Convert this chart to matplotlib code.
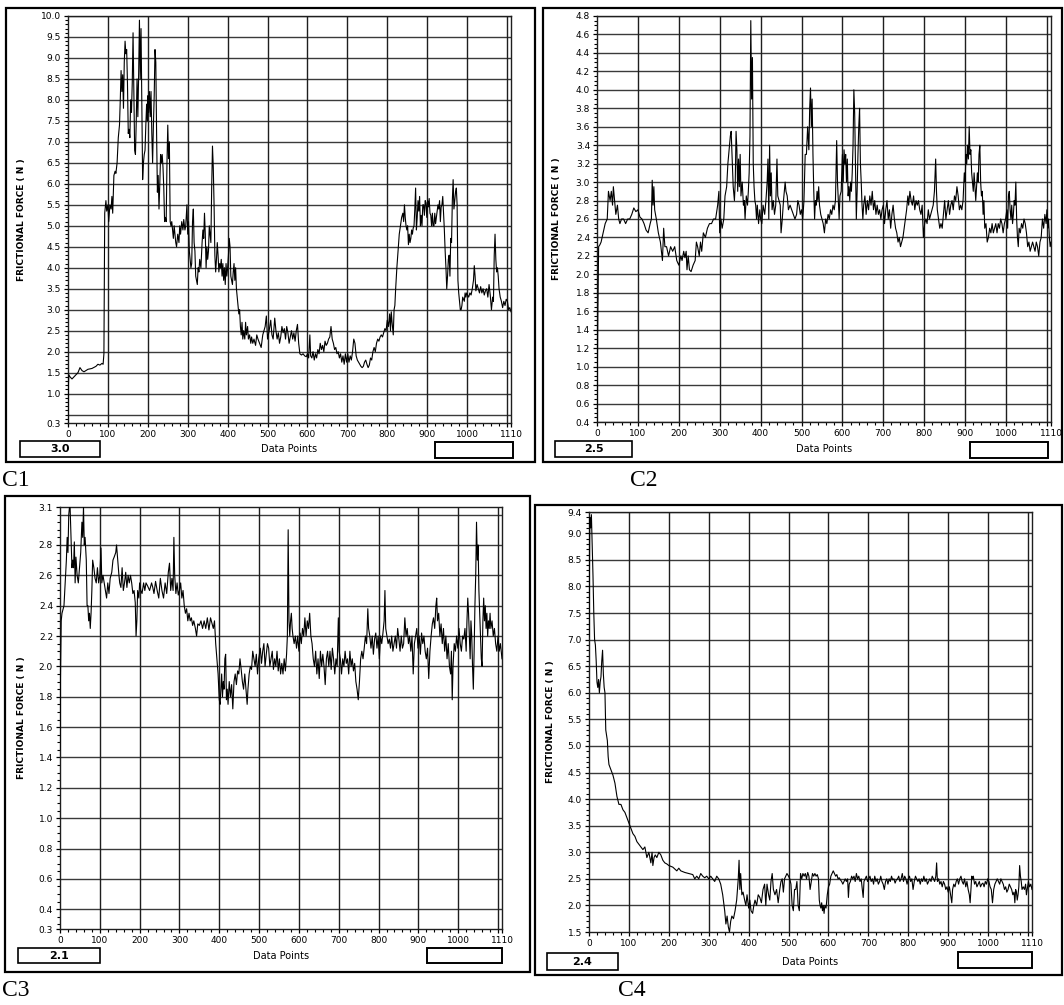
import matplotlib
matplotlib.use("Agg")
import matplotlib.pyplot as plt
from matplotlib.patches import Rectangle

W, H = 1064, 1005

# ---- C1 ----
c1_x = [0, 1, 2, 5, 10, 15, 20, 25, 30, 35,
        40, 50, 60, 70, 75, 80, 85, 88, 90, 92,
        95, 97, 100, 102, 105, 108, 110, 112, 115, 118,
        120, 123, 126, 129, 131, 133, 135, 137, 139, 141,
        143, 145, 147, 149, 151, 153, 155, 157, 159, 161,
        163, 165, 167, 169, 171, 173, 175, 177, 179, 181,
        183, 185, 187, 189, 191, 193, 195, 197, 199, 200,
        202, 204, 206, 208, 210, 212, 214, 216, 218, 220,
        222, 224, 226, 228, 230, 232, 234, 236, 238, 240,
        242, 244, 246, 248, 250, 252, 254, 256, 258, 260,
        262, 264, 266, 268, 270, 272, 275, 278, 280, 282,
        285, 288, 290, 293, 295, 298, 300, 302, 304, 306,
        308, 310, 312, 314, 316, 318, 320, 322, 324, 326,
        328, 330, 333, 336, 338, 340, 342, 344, 346, 348,
        350, 352, 354, 356, 358, 360, 362, 364, 366, 368,
        370, 372, 374, 376, 378, 380, 382, 384, 386, 388,
        390, 392, 394, 396, 398, 400, 402, 404, 406, 408,
        410, 412, 414, 416, 418, 420, 422, 425, 428, 430,
        432, 434, 436, 438, 440, 443, 445, 447, 450, 452,
        455, 458, 460, 463, 466, 470, 473, 476, 480, 484,
        488, 491, 494, 497, 500, 504, 508, 511, 514, 518,
        521, 524, 527, 530, 533, 536, 539, 542, 545, 548,
        551, 554, 557, 560, 563, 566, 569, 572, 575, 578,
        581, 585, 589, 593, 597, 600, 603, 606, 608, 611,
        614, 617, 620, 623, 626, 629, 632, 635, 638, 641,
        644, 647, 650, 653, 656, 659, 662, 665, 668, 671,
        674, 677, 680, 683, 686, 689, 692, 695, 698, 701,
        704, 707, 710, 713, 716, 719, 722, 725, 728, 731,
        734, 737, 740, 743, 746, 749, 752, 755, 758, 761,
        764, 767, 770, 773, 776, 779, 782, 785, 788, 791,
        794, 797, 800, 803, 806, 808, 810, 812, 815, 817,
        819, 821, 824, 827, 830, 833, 836, 839, 841, 843,
        845, 847, 849, 851, 853, 855, 857, 859, 861, 863,
        865, 867, 869, 871, 873, 875, 877, 879, 881, 883,
        885, 887, 889, 891, 893, 895, 897, 899, 901, 903,
        905, 907, 909, 911, 913, 915, 917, 919, 921, 923,
        925, 927, 929, 931, 933, 935, 937, 939, 941, 943,
        945, 947, 949, 951, 953, 955, 957, 959, 961, 963,
        965, 967, 969, 971, 973, 975, 977, 979, 981, 983,
        985, 987, 989, 991, 993, 995, 997, 999, 1001, 1004,
        1007, 1010, 1013, 1016, 1018, 1020, 1022, 1025, 1028, 1031,
        1034, 1037, 1040, 1043, 1046, 1049, 1052, 1055, 1058, 1061,
        1064, 1066, 1068, 1070, 1072, 1074, 1076, 1078, 1080, 1083,
        1086, 1089, 1092, 1095, 1098, 1101, 1104, 1107, 1110]
c1_y = [0.3, 1.2, 1.45, 1.4, 1.35, 1.4, 1.45, 1.5, 1.62, 1.55,
        1.52, 1.58, 1.6, 1.65, 1.7, 1.68, 1.72, 1.7, 1.95, 5.3,
        5.6, 5.35, 5.5, 5.1, 5.5, 5.4, 5.7, 5.3, 6.2, 6.3,
        6.25, 6.5, 7.1, 7.4, 8.0, 8.7, 8.2, 8.6, 7.8, 8.9,
        9.4, 9.1, 9.2, 8.4, 7.2, 7.3, 7.1, 8.0, 7.7, 8.4,
        9.6, 8.2, 6.8, 6.7, 7.5, 8.5, 7.6, 8.6, 9.9, 8.5,
        9.7, 7.9, 6.1, 6.5, 6.7, 6.8, 7.4, 7.9, 7.5, 8.1,
        7.7, 8.2, 7.6, 8.2, 7.2, 6.5, 7.4, 8.1, 9.2, 8.9,
        7.2, 5.8, 6.2, 5.4, 6.0, 6.7, 6.5, 6.7, 6.4, 5.9,
        5.1, 5.2, 5.1, 6.5, 7.4, 6.6, 7.0, 5.1, 5.0, 5.1,
        4.9, 4.7, 5.0, 4.8, 4.6, 4.5, 4.8, 4.6, 5.0, 4.8,
        5.1, 4.9, 5.15, 4.9, 5.0, 5.5, 4.8, 5.1, 4.4, 4.2,
        4.0, 4.1, 5.1, 5.4, 4.6, 4.4, 3.8, 3.7, 3.6, 4.0,
        3.9, 4.2, 4.0, 4.6, 4.9, 4.7, 5.3, 4.8, 4.0, 4.5,
        4.2, 4.4, 5.0, 4.8, 4.6, 5.9, 6.9, 6.4, 5.5, 4.3,
        3.9, 4.2, 4.6, 4.3, 3.9, 4.1, 4.0, 4.2, 3.8, 4.1,
        3.7, 4.0, 3.6, 4.1, 3.8, 4.0, 4.3, 4.7, 4.5, 3.8,
        3.7, 3.6, 3.9, 4.1, 3.7, 4.0, 3.5, 3.2, 2.9, 3.0,
        2.6, 2.4, 2.7, 2.3, 2.5, 2.3, 2.7, 2.4, 2.6, 2.3,
        2.4, 2.2, 2.35, 2.2, 2.3, 2.15, 2.4, 2.3, 2.2, 2.1,
        2.4, 2.5, 2.6, 2.85, 2.3, 2.5, 2.75, 2.4, 2.3, 2.8,
        2.5, 2.3, 2.45, 2.2, 2.35, 2.6, 2.45, 2.55, 2.3, 2.6,
        2.45, 2.2, 2.35, 2.5, 2.3, 2.45, 2.25, 2.5, 2.65, 2.2,
        1.95, 1.92, 1.95, 1.9, 1.88, 1.95, 1.85, 2.4, 1.9, 1.85,
        2.0, 1.8, 1.95, 1.85, 2.05, 1.95, 2.2, 2.05, 2.15, 2.0,
        2.25, 2.15, 2.2, 2.3, 2.35, 2.6, 2.3, 2.2, 2.05, 2.1,
        1.95, 2.0, 1.85, 1.95, 1.75, 1.9, 1.7, 1.95, 1.75, 1.95,
        1.75, 1.9, 1.8, 2.0, 2.3, 2.2, 1.9, 1.8, 1.75, 1.7,
        1.65, 1.62, 1.65, 1.75, 1.8, 1.7, 1.62, 1.68, 1.85, 1.8,
        2.0, 2.1, 2.0, 2.2, 2.3, 2.25, 2.35, 2.4, 2.35, 2.45,
        2.55, 2.5, 2.75, 2.6, 2.9, 2.5, 2.95, 2.7, 2.4, 3.0,
        3.1, 3.5, 4.0, 4.4, 4.8, 5.0, 5.2, 5.3, 5.1, 5.5,
        5.2, 5.0, 4.9, 5.0, 4.55, 4.8, 4.6, 4.7, 4.9, 4.8,
        4.95, 5.0, 5.4, 5.9, 4.9, 5.2, 5.6, 5.35, 5.7, 5.0,
        5.25, 5.0, 5.5, 5.5, 5.25, 5.6, 5.55, 5.2, 5.6, 5.45,
        5.65, 5.3, 5.25, 5.0, 5.3, 5.0, 5.0, 5.3, 5.05, 5.2,
        5.35, 5.5, 5.4, 5.6, 5.1, 5.45, 5.5, 5.7, 5.3, 4.9,
        4.4, 4.0, 3.5, 3.8, 4.2, 4.3, 3.8, 4.7, 4.6, 5.6,
        6.1, 5.4, 5.6, 5.8, 5.9, 5.5, 3.7, 3.4, 3.2, 3.0,
        3.0, 3.1, 3.3, 3.25, 3.2, 3.4, 3.3, 3.4, 3.35, 3.3,
        3.4, 3.35, 3.5, 3.7, 4.05, 3.8, 3.45, 3.6, 3.5, 3.4,
        3.55, 3.4, 3.5, 3.35, 3.45, 3.5, 3.3, 3.6, 3.35, 3.0,
        3.3, 3.2, 4.3, 4.8, 4.2, 3.9, 4.0, 3.8, 3.5, 3.3,
        3.2, 3.05, 3.2, 3.1, 3.25, 3.2, 3.0, 3.05, 2.95]

# ---- C2 ----
c2_x = [0, 1, 2, 4, 7, 10, 15, 20, 25, 28,
        32, 35, 38, 40, 43, 46, 50, 53, 56, 60,
        65, 70, 75, 80, 85, 90, 95, 100, 105, 110,
        115, 120, 125, 130, 133, 135, 137, 139, 141, 145,
        150, 155, 160, 163, 166, 170, 175, 180, 185, 190,
        195, 200, 205, 208, 212, 215, 218, 220, 223, 226,
        230, 235, 240, 243, 246, 250, 253, 256, 260, 265,
        270, 275, 280, 285, 290, 295, 298, 300, 303, 306,
        310, 313, 317, 320, 323, 326, 328, 330, 333, 336,
        338, 340, 342, 344, 346, 348, 350, 352, 355, 358,
        360, 362, 365, 368, 370, 372, 374, 376, 378, 380,
        382, 384, 386, 388, 390, 392, 395, 398, 400, 403,
        406, 410, 413, 416, 418, 420, 422, 424, 426, 428,
        431, 434, 437, 440, 442, 445, 448, 450, 453, 456,
        460, 462, 465, 468, 472, 476, 480, 484, 488, 491,
        494, 497, 500, 503, 506, 509, 512, 515, 518, 520,
        522, 524, 526, 528, 530, 532, 534, 536, 538, 540,
        542, 544, 547, 550, 553, 556, 559, 562, 565, 568,
        571, 574, 577, 580, 583, 586, 588, 590, 592, 594,
        597, 600, 602, 604, 606, 608, 610, 612, 614, 616,
        618, 620, 622, 624, 626, 628, 630, 632, 634, 636,
        638, 640, 642, 644, 646, 648, 650, 652, 655, 658,
        661, 664, 667, 670, 673, 676, 679, 682, 685, 688,
        691, 694, 697, 700, 703, 706, 709, 712, 715, 718,
        721, 724, 727, 730, 733, 736, 739, 742, 745, 748,
        751, 754, 757, 760, 762, 765, 768, 771, 774, 777,
        780, 783, 786, 789, 792, 795, 798, 801, 804, 807,
        810, 813, 816, 819, 822, 825, 828, 830, 832, 835,
        838, 841, 844, 847, 850, 853, 856, 859, 862, 865,
        868, 871, 874, 877, 880, 883, 886, 889, 892, 895,
        898, 900, 902, 904, 906, 908, 910, 912, 914, 916,
        918, 920, 922, 924, 926, 928, 930, 932, 934, 936,
        938, 940, 942, 944, 946, 948, 951, 954, 957, 960,
        963, 966, 969, 972, 975, 978, 981, 984, 987, 990,
        993, 996, 999, 1002, 1004, 1006, 1008, 1010, 1012, 1014,
        1016, 1018, 1020, 1022, 1024, 1026, 1028, 1030, 1032, 1035,
        1038, 1041, 1044, 1047, 1050, 1053, 1056, 1059, 1062, 1065,
        1068, 1071, 1074, 1077, 1080, 1083, 1086, 1089, 1092, 1095,
        1098, 1100, 1102, 1104, 1106, 1108, 1110]
c2_y = [0.4, 1.0, 1.6, 2.3, 2.32, 2.35, 2.45, 2.55, 2.6, 2.9,
        2.8, 2.9, 2.75, 2.95, 2.8, 2.65, 2.75, 2.6, 2.55, 2.6,
        2.6, 2.55, 2.6, 2.6, 2.65, 2.72, 2.68, 2.7, 2.62, 2.6,
        2.55, 2.48, 2.45, 2.55, 2.6, 3.02, 2.75, 2.95, 2.7, 2.6,
        2.45, 2.35, 2.15, 2.5, 2.3, 2.3, 2.2, 2.3, 2.25, 2.3,
        2.15, 2.1, 2.2, 2.15, 2.25, 2.18, 2.25, 2.05, 2.2, 2.05,
        2.03, 2.1, 2.15, 2.35, 2.3, 2.2, 2.35, 2.25, 2.45, 2.4,
        2.5, 2.55, 2.55, 2.6, 2.6, 2.75, 2.9, 2.45, 2.6, 2.5,
        2.6, 2.85, 2.95, 3.2, 3.35, 3.5, 3.55, 3.3, 2.95, 2.8,
        3.0, 3.55, 3.35, 2.9, 3.25, 2.95, 3.3, 2.85, 3.0, 2.75,
        2.8, 2.6, 2.85, 2.75, 2.9, 3.1, 3.5, 4.75, 3.9, 4.35,
        3.2, 2.95, 2.8, 2.75, 2.6, 2.75, 2.55, 2.7, 2.6, 2.55,
        2.75, 2.65, 2.8, 3.0, 3.25, 2.6, 3.4, 2.85, 3.1, 2.7,
        2.8, 2.65, 2.75, 3.25, 2.85, 2.8, 2.75, 2.45, 2.6, 2.8,
        3.0, 2.9, 2.85, 2.7, 2.75, 2.7, 2.65, 2.6, 2.65, 2.8,
        2.75, 2.65, 2.7, 2.6, 2.8, 3.3, 3.3, 3.6, 3.35, 3.8,
        4.02, 3.6, 3.9, 3.3, 2.9, 2.6, 2.8, 2.75, 2.9, 2.8,
        2.95, 2.75, 2.65, 2.6, 2.55, 2.45, 2.6, 2.55, 2.65, 2.6,
        2.7, 2.65, 2.75, 2.7, 2.8, 3.45, 3.0, 2.8, 2.6, 2.85,
        2.9, 3.3, 3.0, 3.35, 3.2, 3.3, 3.0, 3.25, 2.85, 2.95,
        2.8, 3.0, 2.9, 3.1, 3.4, 4.0, 3.75, 3.2, 2.6, 2.9,
        3.3, 3.6, 3.8, 3.2, 3.0, 2.75, 2.6, 2.75, 2.85, 2.65,
        2.8, 2.7, 2.85, 2.75, 2.9, 2.7, 2.8, 2.65, 2.75, 2.65,
        2.7, 2.6, 2.7, 2.75, 2.55, 2.7, 2.8, 2.6, 2.7, 2.5,
        2.65, 2.75, 2.6, 2.5, 2.45, 2.35, 2.4, 2.3, 2.35, 2.4,
        2.5, 2.6, 2.7, 2.85, 2.75, 2.9, 2.8, 2.75, 2.85, 2.7,
        2.8, 2.75, 2.8, 2.7, 2.65, 2.75, 2.4, 2.55, 2.6, 2.55,
        2.7, 2.6, 2.65, 2.7, 2.75, 2.9, 3.25, 2.9, 2.7, 2.6,
        2.5, 2.55, 2.5, 2.65, 2.8, 2.6, 2.7, 2.8, 2.65, 2.75,
        2.8, 2.7, 2.85, 2.8, 2.95, 2.85, 2.7, 2.75, 2.7, 2.8,
        3.1, 3.0, 3.3, 3.2, 3.4, 3.25, 3.6, 3.3, 3.35, 3.1,
        3.0, 2.9, 3.1, 2.95, 2.8, 2.95, 3.1, 3.0, 3.3, 3.4,
        3.0, 2.85, 2.9, 2.65, 2.8, 2.5, 2.55, 2.35, 2.4, 2.5,
        2.45, 2.55, 2.45, 2.5, 2.55, 2.45, 2.55, 2.5, 2.6, 2.55,
        2.45, 2.55, 2.6, 2.7, 2.5, 2.85, 2.9, 2.7, 2.6, 2.75,
        2.55, 2.65, 2.8, 2.75, 3.0, 2.6, 2.4, 2.3, 2.5, 2.45,
        2.55, 2.5, 2.6, 2.55, 2.45, 2.3, 2.35, 2.25, 2.3, 2.35,
        2.3, 2.25, 2.35, 2.3, 2.2, 2.35, 2.4, 2.6, 2.5, 2.65,
        2.55, 2.7, 2.5, 2.6, 2.4, 2.3, 2.35]

# ---- C3 ----
c3_x = [0, 1, 3, 5, 8, 10, 13, 16, 18, 20,
        22, 25, 27, 30, 32, 34, 36, 38, 40, 43,
        46, 49, 52, 55, 57, 59, 61, 63, 66, 68,
        70, 72, 74, 76, 78, 80, 82, 85, 88, 91,
        94, 97, 100, 103, 105, 108, 111, 114, 117, 120,
        123, 126, 130, 133, 136, 140, 142, 145, 148, 150,
        153, 156, 159, 162, 165, 168, 171, 174, 177, 180,
        183, 186, 189, 191, 193, 195, 198, 200, 203, 206,
        210, 213, 216, 220, 225, 230, 233, 236, 240, 244,
        248, 252, 256, 260, 264, 268, 272, 275, 278, 281,
        284, 286, 288, 291, 294, 297, 300, 303, 306, 309,
        312, 315, 318, 321, 324, 327, 330, 333, 336, 340,
        343, 346, 350, 354, 358, 362, 366, 370, 374, 378,
        382, 385, 388, 391, 394, 397, 400, 402, 404, 406,
        408, 410, 412, 414, 416, 418, 420, 422, 425, 428,
        431, 434, 437, 440, 443, 446, 449, 452, 455, 458,
        461, 464, 467, 470, 472, 475, 478, 481, 484, 487,
        490, 493, 496, 499, 503, 506, 509, 512, 515, 518,
        521, 524, 527, 530, 533, 536, 539, 542, 545, 548,
        551, 554, 557, 560, 563, 566, 569, 571, 573, 575,
        577, 579, 581, 583, 585, 588, 591, 594, 597, 600,
        603, 606, 609, 612, 615, 618, 621, 624, 627, 630,
        633, 636, 639, 642, 645, 648, 651, 654, 657, 660,
        663, 666, 669, 672, 675, 678, 681, 684, 687, 690,
        693, 696, 699, 701, 704, 707, 710, 713, 716, 719,
        722, 725, 728, 731, 734, 737, 740, 743, 746, 749,
        752, 755, 758, 761, 764, 767, 770, 773, 775, 778,
        781, 784, 787, 790, 793, 796, 799, 802, 805, 808,
        811, 814, 816, 818, 821, 824, 827, 830, 833, 836,
        839, 842, 845, 848, 851, 854, 857, 860, 863, 866,
        869, 872, 875, 878, 881, 884, 887, 890, 893, 896,
        899, 902, 905, 908, 911, 914, 917, 920, 923, 926,
        929, 932, 935, 938, 941, 944, 946, 948, 951, 954,
        957, 960, 963, 966, 969, 972, 975, 978, 981, 983,
        985, 987, 990, 993, 996, 999, 1002, 1005, 1008, 1011,
        1014, 1017, 1020, 1022, 1024, 1026, 1028, 1030, 1032, 1034,
        1036, 1038, 1040, 1042, 1044, 1046, 1048, 1050, 1052, 1054,
        1056, 1058, 1060, 1062, 1064, 1066, 1068, 1070, 1072, 1074,
        1076, 1078, 1080, 1082, 1085, 1088, 1091, 1094, 1097, 1100,
        1103, 1106, 1110]
c3_y = [1.45, 1.9, 2.3, 2.35, 2.38, 2.4, 2.55, 2.7, 2.85, 2.75,
        3.0, 3.08, 2.9, 2.65, 2.7, 2.65, 2.82, 2.55, 2.72, 2.6,
        2.55, 2.65, 2.75, 2.95, 2.85, 3.05, 2.8, 2.85, 2.7, 2.4,
        2.4, 2.3, 2.35, 2.25, 2.35, 2.5, 2.7, 2.65, 2.58, 2.55,
        2.65, 2.55, 2.6, 2.78, 2.55, 2.6, 2.55, 2.5, 2.45, 2.55,
        2.48, 2.58, 2.62, 2.7, 2.72, 2.75, 2.8, 2.7, 2.6, 2.55,
        2.52, 2.65, 2.5, 2.55, 2.62, 2.52, 2.6, 2.55, 2.6, 2.55,
        2.48, 2.5, 2.42, 2.2, 2.3, 2.5, 2.45, 2.55, 2.5, 2.48,
        2.55, 2.5, 2.55, 2.53, 2.5, 2.55, 2.52, 2.48, 2.56, 2.5,
        2.45, 2.58, 2.5, 2.45, 2.55, 2.48, 2.62, 2.68, 2.5, 2.58,
        2.5, 2.85, 2.6, 2.48, 2.55, 2.47, 2.5, 2.55, 2.45, 2.5,
        2.4, 2.35, 2.38, 2.3, 2.35, 2.3, 2.32, 2.27, 2.3, 2.25,
        2.2, 2.28, 2.27, 2.3, 2.25, 2.3, 2.25, 2.32, 2.24, 2.32,
        2.28, 2.25, 2.3, 2.15, 2.05, 1.95, 1.78, 1.75, 1.85, 1.95,
        1.8, 1.9, 1.85, 2.05, 2.08, 1.78, 1.85, 1.75, 1.9, 1.8,
        1.88, 1.72, 1.9, 1.95, 1.88, 1.97, 1.95, 2.05, 1.98, 1.9,
        1.85, 1.95, 1.85, 1.75, 1.85, 1.95, 2.0, 1.98, 2.1, 2.05,
        2.0, 2.08, 1.95, 2.05, 2.12, 2.02, 2.1, 2.15, 2.0, 2.08,
        2.15, 2.12, 2.0, 2.05, 2.1, 1.98, 2.05, 2.0, 2.1, 1.97,
        2.05, 1.95, 2.02, 1.95, 2.05, 1.97, 2.08, 2.2, 2.9, 2.3,
        2.2, 2.3, 2.35, 2.25, 2.2, 2.15, 2.2, 2.12, 2.2, 2.1,
        2.22, 2.15, 2.25, 2.2, 2.32, 2.2, 2.3, 2.25, 2.35, 2.2,
        2.15, 2.05, 2.0, 2.1, 1.95, 2.05, 1.92, 2.1, 2.0, 2.08,
        2.0, 1.88, 2.05, 2.1, 2.0, 2.1, 1.98, 2.12, 2.05, 1.95,
        2.05, 2.0, 2.32, 2.1, 2.05, 1.95, 2.05, 2.0, 2.1, 2.02,
        2.05, 1.95, 2.1, 2.0, 2.05, 1.97, 2.02, 1.9, 1.85, 1.78,
        1.9, 2.05, 2.1, 2.05, 2.12, 2.2, 2.15, 2.38, 2.25, 2.2,
        2.12, 2.2, 2.08, 2.18, 2.22, 2.12, 2.2, 2.05, 2.2, 2.15,
        2.22, 2.3, 2.5, 2.25, 2.2, 2.15, 2.18, 2.12, 2.2, 2.1,
        2.15, 2.2, 2.12, 2.25, 2.18, 2.1, 2.2, 2.12, 2.15, 2.32,
        2.2, 2.25, 2.15, 2.2, 2.1, 2.2, 1.95, 2.15, 2.2, 2.25,
        2.12, 2.2, 2.08, 2.22, 2.15, 2.2, 2.1, 2.05, 2.12, 1.92,
        2.1, 2.2, 2.28, 2.32, 2.25, 2.4, 2.45, 2.3, 2.35, 2.2,
        2.28, 2.15, 2.25, 2.1, 2.2, 2.05, 2.15, 2.0, 1.95, 2.1,
        1.78, 2.0, 2.15, 2.1, 2.2, 2.12, 2.25, 2.15, 2.1, 2.2,
        2.18, 2.25, 2.1, 2.3, 2.45, 2.35, 2.2, 2.05, 2.3, 2.2,
        2.0, 1.85, 2.1, 2.4, 2.6, 2.95, 2.7, 2.8, 2.5, 2.35,
        2.2, 2.05, 2.0, 2.3, 2.45, 2.3, 2.4, 2.25, 2.35, 2.2,
        2.3, 2.25, 2.35, 2.25, 2.3, 2.2, 2.25, 2.15, 2.1, 2.2,
        2.1, 2.15, 2.05]

# ---- C4 ----
c4_x = [0, 2, 4, 6, 8, 10, 12, 14, 16, 18,
        20, 22, 24, 26, 28, 30, 32, 34, 36, 38,
        40, 42, 44, 46, 48, 50, 55, 60, 65, 70,
        75, 80, 85, 90, 95, 100, 105, 110, 115, 120,
        125, 130, 135, 140, 145, 150, 155, 158, 160, 163,
        166, 170, 175, 180, 185, 190, 195, 200, 210, 220,
        225, 230, 240, 250, 260, 265, 270, 275, 280, 285,
        290, 295, 300, 305, 310, 315, 320, 325, 330, 335,
        340, 343, 346, 349, 352, 355, 358, 362, 366, 370,
        374, 376, 378, 380, 383, 386, 390, 393, 396, 400,
        403, 406, 410, 413, 416, 420, 424, 428, 432, 436,
        440, 443, 446, 450, 453, 456, 459, 462, 466, 470,
        474, 478, 481, 484, 487, 490, 493, 496, 500, 503,
        506, 509, 512, 515, 518, 521, 524, 527, 530, 533,
        536, 539, 542, 545, 548, 551, 554, 557, 560, 563,
        566, 569, 572, 575, 577, 579, 581, 583, 585, 587,
        589, 591, 594, 597, 600, 603, 606, 609, 612, 615,
        618, 621, 624, 627, 630, 633, 636, 639, 642, 645,
        648, 650, 652, 655, 658, 661, 664, 667, 670, 673,
        676, 679, 682, 685, 687, 689, 692, 695, 698, 701,
        704, 707, 710, 713, 716, 719, 722, 725, 728, 731,
        734, 737, 740, 743, 746, 749, 752, 755, 758, 761,
        764, 767, 770, 773, 776, 779, 782, 785, 788, 791,
        794, 797, 800, 803, 806, 809, 812, 815, 818, 821,
        824, 827, 830, 833, 836, 839, 842, 845, 848, 851,
        854, 857, 860, 863, 866, 869, 871, 873, 876, 879,
        882, 885, 888, 891, 894, 897, 900, 903, 906, 909,
        911, 914, 917, 920, 923, 926, 929, 932, 935, 938,
        941, 944, 947, 950, 953, 955, 957, 959, 961, 963,
        966, 969, 972, 975, 978, 981, 984, 987, 990, 993,
        996, 999, 1002, 1005, 1008, 1011, 1014, 1017, 1020, 1023,
        1026, 1029, 1032, 1035, 1038, 1041, 1044, 1047, 1050, 1053,
        1056, 1059, 1062, 1065, 1067, 1069, 1071, 1073, 1075, 1077,
        1079, 1081, 1083, 1085, 1088, 1091, 1094, 1096, 1098, 1101,
        1104, 1107, 1110]
c4_y = [7.05, 9.3, 9.1, 9.35, 8.8, 8.2, 7.5, 7.0, 6.9, 6.6,
        6.2, 6.1, 6.25, 6.0, 6.2, 6.3, 6.6, 6.8, 6.35, 6.1,
        6.0, 5.3, 5.2, 5.1, 4.8, 4.65, 4.55, 4.45, 4.3, 4.05,
        3.9, 3.9, 3.8, 3.75, 3.65, 3.55, 3.45, 3.35, 3.3, 3.2,
        3.15, 3.1, 3.05, 3.1, 2.9, 3.0, 2.8, 3.0, 2.75, 2.9,
        2.95, 2.9, 3.0, 2.95, 2.85, 2.8, 2.78, 2.75, 2.72, 2.65,
        2.7, 2.65, 2.62, 2.6, 2.58, 2.5, 2.55, 2.5, 2.6, 2.55,
        2.52, 2.55, 2.5, 2.55, 2.5, 2.45, 2.55, 2.5, 2.4, 2.2,
        1.9, 1.65, 1.8, 1.6, 1.5, 1.7, 1.8, 1.75, 1.9, 2.1,
        2.5, 2.85, 2.3, 2.6, 2.2, 2.25, 2.1, 2.0, 2.2, 1.95,
        2.1, 1.9, 1.85, 2.0, 2.1, 2.0, 2.2, 2.15, 2.05, 2.3,
        2.4, 2.0, 2.4, 2.2, 2.1, 2.45, 2.6, 2.3, 2.2, 2.3,
        2.05, 2.3, 2.45, 2.5, 2.25, 2.5, 2.55, 2.6, 2.55, 2.5,
        2.4, 2.0, 1.9, 2.3, 2.3, 2.45, 2.0, 1.9, 2.6, 2.5,
        2.6, 2.55, 2.6, 2.5, 2.62, 2.55, 2.3, 2.45, 2.6, 2.55,
        2.6, 2.55, 2.58, 2.5, 2.1, 2.0, 1.95, 2.05, 1.9, 2.0,
        1.85, 2.0, 1.95, 2.2, 2.35, 2.4, 2.55, 2.6, 2.65, 2.6,
        2.55, 2.58, 2.5, 2.52, 2.48, 2.45, 2.4, 2.45, 2.5, 2.45,
        2.5, 2.15, 2.4, 2.45, 2.55, 2.5, 2.55, 2.45, 2.6, 2.5,
        2.55, 2.45, 2.5, 2.3, 2.15, 2.45, 2.5, 2.55, 2.45, 2.5,
        2.55, 2.45, 2.5, 2.4, 2.55, 2.45, 2.5, 2.4, 2.45, 2.55,
        2.45, 2.4, 2.3, 2.45, 2.5, 2.4, 2.5, 2.45, 2.55, 2.48,
        2.5, 2.42, 2.48, 2.5, 2.55, 2.45, 2.5, 2.6, 2.45, 2.55,
        2.5, 2.4, 2.5, 2.55, 2.45, 2.5, 2.3, 2.45, 2.55, 2.5,
        2.45, 2.5, 2.4, 2.5, 2.45, 2.55, 2.45, 2.5, 2.4, 2.45,
        2.5, 2.45, 2.55, 2.5, 2.45, 2.55, 2.8, 2.45, 2.5, 2.4,
        2.45, 2.35, 2.45, 2.4, 2.3, 2.35, 2.25, 2.35, 2.2, 2.05,
        2.3, 2.4, 2.35, 2.45, 2.5, 2.4, 2.5, 2.55, 2.45, 2.4,
        2.5, 2.35, 2.45, 2.3, 2.2, 2.05, 2.3, 2.55, 2.5, 2.55,
        2.4, 2.45, 2.35, 2.4, 2.45, 2.35, 2.4, 2.42, 2.35, 2.45,
        2.4, 2.5, 2.45, 2.35, 2.3, 2.05, 2.3, 2.4, 2.45, 2.5,
        2.45, 2.4, 2.5, 2.45, 2.4, 2.3, 2.35, 2.25, 2.3, 2.4,
        2.35, 2.3, 2.2, 2.25, 2.05, 2.3, 2.25, 2.1, 2.2, 2.35,
        2.75, 2.55, 2.45, 2.3, 2.35, 2.3, 2.4, 2.2, 2.3, 2.45,
        2.35, 2.4, 2.3]

panels = [
    dict(x=c1_x, y=c1_y, name="C1", value="3.0",
         axes=(68, 16, 511, 423), outer=(6, 8, 535, 462),
         vbox=(20, 441, 100, 457), ebox=(435, 442, 513, 458),
         ylab_x=22, name_xy=(2, 480),
         ylim=(0.3, 10.0),
         yticks=[0.3] + [v / 2 for v in range(2, 21)],
         ylabels=["0.3"] + ["%.1f" % (v / 2) for v in range(2, 21)],
         ygrid=[v / 2 for v in range(1, 21)],
         yminor=[v / 10 for v in range(3, 101)]),
    dict(x=c2_x, y=c2_y, name="C2", value="2.5",
         axes=(597, 16, 1051, 422), outer=(543, 8, 1062, 462),
         vbox=(555, 441, 632, 457), ebox=(970, 442, 1048, 458),
         ylab_x=557, name_xy=(630, 480),
         ylim=(0.4, 4.8),
         yticks=[v / 10 for v in range(4, 49, 2)],
         ylabels=["%.1f" % (v / 10) for v in range(4, 49, 2)],
         ygrid=[v / 10 for v in range(4, 49, 2)],
         yminor=[v / 20 for v in range(8, 97)]),
    dict(x=c3_x, y=c3_y, name="C3", value="2.1",
         axes=(60, 507, 502, 929), outer=(5, 496, 530, 972),
         vbox=(18, 948, 100, 963), ebox=(427, 948, 502, 963),
         ylab_x=22, name_xy=(2, 990),
         ylim=(0.27, 3.05),
         yticks=[0.27] + [v / 10 for v in range(4, 29, 2)] + [3.05],
         ylabels=["0.3"] + ["%.1f" % (v / 10) for v in range(4, 29, 2)] + ["3.1"],
         ygrid=[v / 10 for v in range(4, 31, 2)],
         yminor=[v / 20 for v in range(6, 61)]),
    dict(x=c4_x, y=c4_y, name="C4", value="2.4",
         axes=(589, 512, 1032, 932), outer=(535, 505, 1062, 975),
         vbox=(547, 953, 618, 970), ebox=(958, 952, 1032, 968),
         ylab_x=550, name_xy=(618, 990),
         ylim=(1.5, 9.4),
         yticks=[v / 2 for v in range(3, 19)] + [9.4],
         ylabels=["%.1f" % (v / 2) for v in range(3, 19)] + ["9.4"],
         ygrid=[v / 2 for v in range(4, 19)] + [9.4],
         yminor=[v / 10 for v in range(15, 95)]),
]


def frac_rect(x0, y0, x1, y1):
    return [x0 / W, 1 - y1 / H, (x1 - x0) / W, (y1 - y0) / H]


def add_box(fig, r, lw):
    x0, y0, x1, y1 = r
    fig.add_artist(Rectangle((x0 / W, 1 - y1 / H), (x1 - x0) / W, (y1 - y0) / H,
                             transform=fig.transFigure, fill=False,
                             ec="black", lw=lw))


fig = plt.figure(figsize=(W / 100, H / 100), dpi=100)

for p in panels:
    ax = fig.add_axes(frac_rect(*p["axes"]))
    for g in p["ygrid"]:
        ax.axhline(g, color="#3a3a3a", lw=1.0, zorder=1)
    for g in range(100, 1101, 100):
        ax.axvline(g, color="#1e1e1e", lw=1.0, zorder=1)
    ax.plot(p["x"], p["y"], color="black", lw=0.8, zorder=3)
    ax.set_xlim(0, 1110)
    ax.set_ylim(*p["ylim"])

    xt = list(range(0, 1101, 100)) + [1110]
    ax.set_xticks(xt, [str(v) for v in range(0, 1001, 100)] + ["", "1110"])
    ax.set_xticks(list(range(0, 1111, 20)), minor=True)
    ax.set_yticks(p["yticks"], p["ylabels"])
    ax.set_yticks(p["yminor"], minor=True)
    ax.tick_params(which="major", direction="out", length=3, width=0.9,
                   labelsize=6.5, pad=2, colors="black")
    ax.tick_params(which="minor", direction="out", length=2, width=0.8)
    for s in ax.spines.values():
        s.set_color("#1e1e1e")
        s.set_linewidth(1.0)

    ax_x0, ax_y0, ax_x1, ax_y1 = p["axes"]
    fig.text(p["ylab_x"] / W, 1 - (ax_y0 + ax_y1) / 2 / H,
             "FRICTIONAL FORCE ( N )", rotation=90, ha="center", va="center",
             fontsize=6.5, fontweight="bold",
             family=["Liberation Sans Narrow", "DejaVu Sans"])

    add_box(fig, p["outer"], 1.6)
    add_box(fig, p["vbox"], 1.2)
    add_box(fig, p["ebox"], 1.4)
    vx0, vy0, vx1, vy1 = p["vbox"]
    fig.text((vx0 + vx1) / 2 / W, 1 - (vy0 + vy1) / 2 / H, p["value"],
             ha="center", va="center", fontsize=8, fontweight="bold")
    fig.text((ax_x0 + ax_x1) / 2 / W, 1 - (vy0 + vy1) / 2 / H, "Data Points",
             ha="center", va="center", fontsize=7)
    fig.text(p["name_xy"][0] / W, 1 - p["name_xy"][1] / H, p["name"],
             ha="left", va="center", fontsize=17, family="Liberation Serif")

fig.savefig("out.png", dpi=100)
